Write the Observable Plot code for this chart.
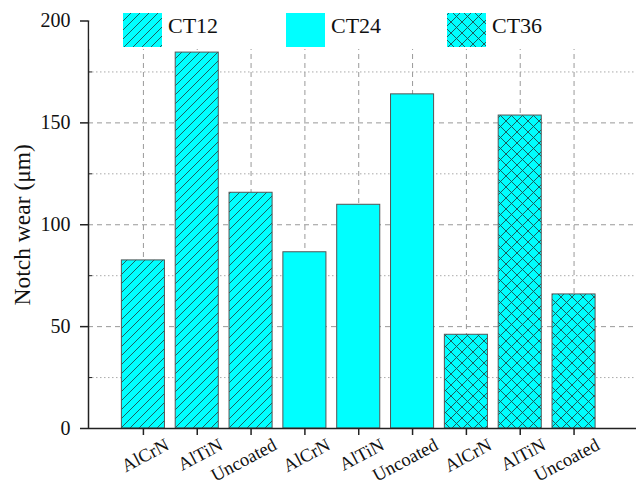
<!DOCTYPE html>
<html><head><meta charset="utf-8">
<script src="https://cdn.jsdelivr.net/npm/d3@7"></script>
<script src="https://cdn.jsdelivr.net/npm/@observablehq/plot@0.6"></script>
<style>
body{margin:0;background:#fff}
svg, svg text{font-family:"Liberation Serif", serif !important}
</style>
</head><body><div id="chart"></div>
<script>
// ---- data ----
const coatings = ["AlCrN","AlTiN","Uncoated","AlCrN","AlTiN","Uncoated","AlCrN","AlTiN","Uncoated"];
const groups = ["CT12","CT12","CT12","CT24","CT24","CT24","CT36","CT36","CT36"];
const notchWear = [82.5, 184.5, 115.7, 86.5, 109.8, 164, 46, 153.6, 65.8];
const legendGroups = ["CT12","CT24","CT36"];
const yMajorTicks = [0, 50, 100, 150, 200];
const yMinorTicks = [25, 75, 125, 175];
const yLabel = "Notch wear (μm)";

const data = notchWear.map((v, i) => ({pos: i + 1, coating: coatings[i], group: groups[i], value: v}));
const positions = data.map(d => d.pos);
const hatchOf = {CT12: "url(#hatch-diag)", CT24: null, CT36: "url(#hatch-cross)"};
const xDomain = [-0.02, 10.16];
const half = 0.4;
const cyan = "#00ffff";
const serif = '"Liberation Serif", serif';

const plot = Plot.plot({
  width: 636, height: 486,
  marginLeft: 88, marginRight: 0, marginTop: 20.5, marginBottom: 58,
  style: {fontFamily: serif, fontSize: "20px", color: "#111", background: "#fff"},
  x: {type: "linear", domain: xDomain},
  y: {domain: [0, 200]},
  marks: [
    Plot.ruleY(yMinorTicks, {stroke: "#aaa", strokeDasharray: "1.5,2.5"}),
    Plot.ruleY(yMajorTicks.filter(t => t > 0), {stroke: "#999", strokeDasharray: "5,4"}),
    Plot.ruleX(positions, {y1: 0, y2: 200, stroke: "#999", strokeDasharray: "5,4"}),
    Plot.rectY(data, {x1: d => d.pos - half, x2: d => d.pos + half, y1: 0, y2: "value", fill: cyan}),
    Plot.rectY(data, {filter: d => d.group === "CT12", x1: d => d.pos - half, x2: d => d.pos + half, y1: 0, y2: "value", fill: "url(#hatch-diag)"}),
    Plot.rectY(data, {filter: d => d.group === "CT36", x1: d => d.pos - half, x2: d => d.pos + half, y1: 0, y2: "value", fill: "url(#hatch-cross)"}),
    Plot.rectY(data, {x1: d => d.pos - half, x2: d => d.pos + half, y1: 0, y2: "value", fill: "none", stroke: "#555", strokeWidth: 1}),
    Plot.ruleY([0], {stroke: "#222", strokeWidth: 1.5}),
    Plot.ruleX([xDomain[0]], {y1: 0, y2: 200, stroke: "#222", strokeWidth: 1.5}),
    Plot.ruleY(yMinorTicks, {x1: xDomain[0], x2: xDomain[0] + 0.075, stroke: "#222", strokeWidth: 1}),
    Plot.axisY({ticks: yMajorTicks, tickSize: 8, tickPadding: 10, fontSize: 20, label: null, stroke: "#222", strokeWidth: 1.5}),
    Plot.axisX({ticks: positions, tickSize: 7, tickFormat: () => "", label: null, stroke: "#222", strokeWidth: 1.5}),
    Plot.text(data, {x: "pos", text: "coating", frameAnchor: "bottom", textAnchor: "end", lineAnchor: "middle", dx: 24, dy: 15, rotate: -28, fontSize: 18.5, fill: "#111"}),
    Plot.text([yLabel], {frameAnchor: "left", textAnchor: "middle", lineAnchor: "middle", rotate: -90, dx: -66, fontSize: 23.5, fill: "#111"})
  ]
});

const svg = d3.select(plot);
const defs = svg.insert("defs", ":first-child");
const pd = defs.append("pattern").attr("id", "hatch-diag").attr("patternUnits", "userSpaceOnUse")
  .attr("width", 9).attr("height", 9);
pd.append("path").attr("d", "M-2,2 L2,-2 M0,9 L9,0 M7,11 L11,7")
  .attr("stroke", "#1d4f4f").attr("stroke-width", 0.9).attr("fill", "none");
const pc = defs.append("pattern").attr("id", "hatch-cross").attr("patternUnits", "userSpaceOnUse")
  .attr("width", 11).attr("height", 11);
pc.append("path").attr("d", "M-1,-1 L12,12 M12,-1 L-1,12")
  .attr("stroke", "#1d4f4f").attr("stroke-width", 0.9).attr("fill", "none");

// legend (drawn in the top band)
const lg = svg.append("g");
lg.append("rect").attr("x", 89.5).attr("y", 0).attr("width", 636 - 89.5).attr("height", 49).attr("fill", "#fff");
const legendX = [123, 286, 447];
legendGroups.forEach((g, i) => {
  const x = legendX[i];
  lg.append("rect").attr("x", x).attr("y", 13).attr("width", 39).attr("height", 34).attr("fill", cyan);
  if (hatchOf[g]) lg.append("rect").attr("x", x).attr("y", 13).attr("width", 39).attr("height", 34).attr("fill", hatchOf[g]);
  lg.append("text").attr("x", x + 45).attr("y", 33).attr("text-anchor", "start")
    .attr("font-size", 22).attr("fill", "#111").text(g);
});

document.getElementById("chart").appendChild(plot);
</script>
</body></html>
